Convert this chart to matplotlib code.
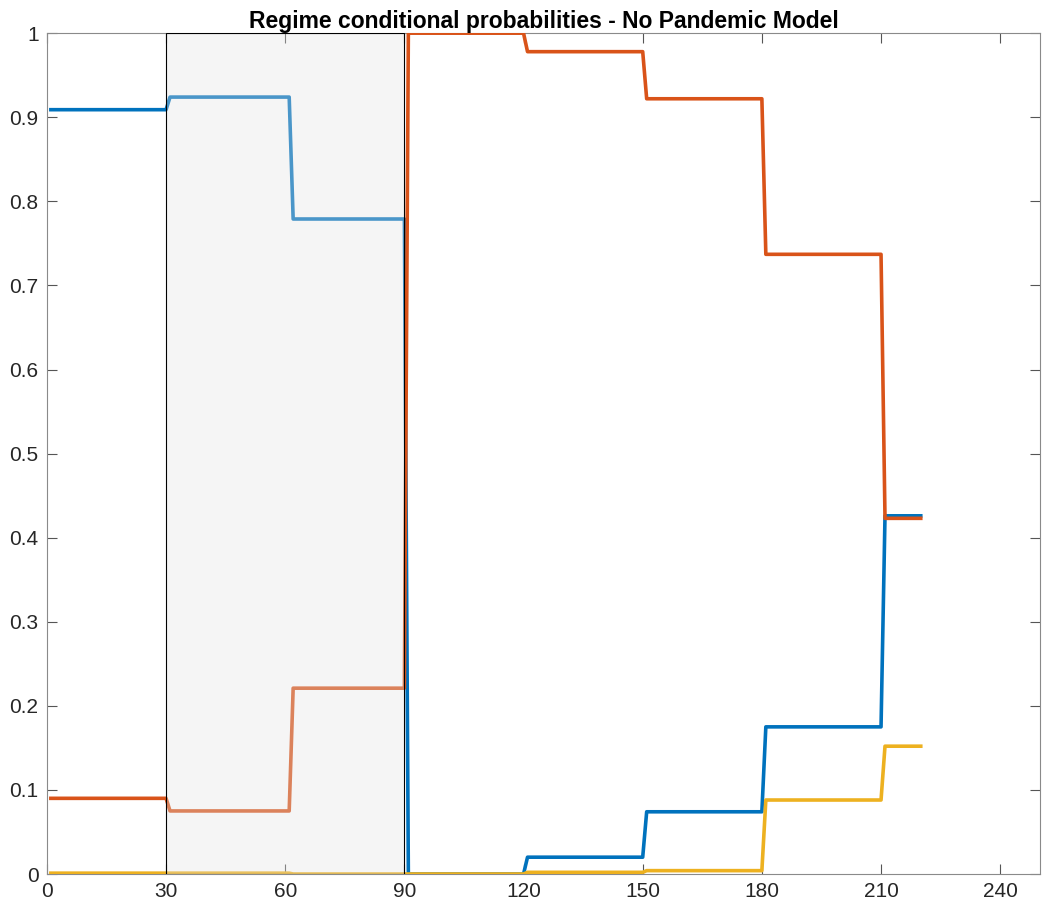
"""Plot regime conditional probabilities for the no-pandemic model"""

import matplotlib
matplotlib.use('Agg')
from matplotlib import pyplot as plt
from matplotlib.patches import Rectangle

# day index where each level starts/ends (one-day ramps between regimes)
days = [1, 30, 31, 61, 62, 90, 91, 120, 121, 150, 151, 180, 181, 210, 211, 220]

regime1 = [0.909, 0.909, 0.924, 0.924, 0.779, 0.779, 0.0, 0.0,
           0.020, 0.020, 0.074, 0.074, 0.175, 0.175, 0.426, 0.426]
regime2 = [0.090, 0.090, 0.075, 0.075, 0.221, 0.221, 1.0, 1.0,
           0.978, 0.978, 0.922, 0.922, 0.737, 0.737, 0.423, 0.423]
regime3 = [0.001, 0.001, 0.001, 0.001, 0.0, 0.0, 0.0, 0.0,
           0.002, 0.002, 0.004, 0.004, 0.088, 0.088, 0.152, 0.152]

shade_start, shade_end = 30, 90
xticks = [0, 30, 60, 90, 120, 150, 180, 210, 240]
yticks = [0, 0.1, 0.2, 0.3, 0.4, 0.5, 0.6, 0.7, 0.8, 0.9, 1]
ytick_labels = ['0', '0.1', '0.2', '0.3', '0.4', '0.5', '0.6', '0.7', '0.8', '0.9', '1']

plt.rcParams['font.family'] = ['Liberation Sans', 'DejaVu Sans']

fig = plt.figure(figsize=(10.42, 9.09), dpi=100)
ax = fig.add_axes([0.045, 0.0385, 0.953, 0.925])

lw = 2.6
ax.plot(days, regime1, color='#0072BD', lw=lw, zorder=2)
ax.plot(days, regime2, color='#D95319', lw=lw, zorder=3)
ax.plot(days, regime3, color='#EDB120', lw=lw, zorder=4)

# translucent shading over the first lockdown window
ax.add_patch(Rectangle((shade_start, 0), shade_end - shade_start, 1,
                       facecolor='#E2E2E2', alpha=0.33, edgecolor='none', zorder=5))
ax.add_patch(Rectangle((shade_start, 0), shade_end - shade_start, 1,
                       facecolor='none', edgecolor='black', lw=0.8, zorder=6))

ax.set_xlim(0, 250)
ax.set_ylim(0, 1)
ax.set_xticks(xticks)
ax.set_yticks(yticks)
ax.set_yticklabels(ytick_labels)
ax.tick_params(direction='in', length=7, width=0.8, color='#555555',
               top=True, right=True, labelsize=15, labelcolor='#262626', pad=6)
for spine in ax.spines.values():
    spine.set_color('#8a8a8a')
    spine.set_linewidth(0.8)

ax.set_title('Regime conditional probabilities - No Pandemic Model',
             fontsize=16.5, fontweight='bold', pad=4)

plt.savefig('out.png', dpi=100)
